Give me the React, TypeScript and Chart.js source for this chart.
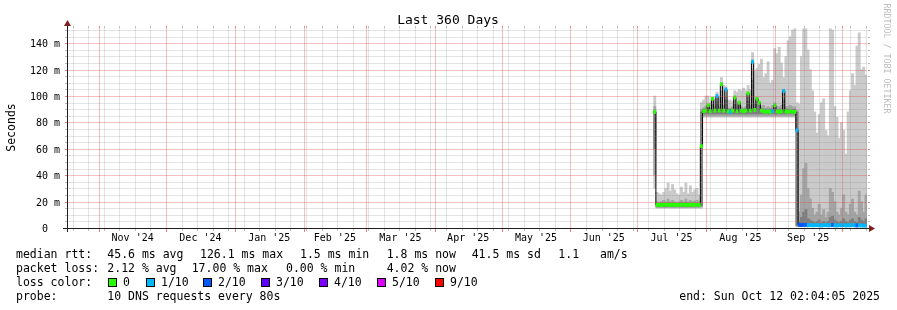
import React, { useEffect, useRef } from 'react';
import { Chart, registerables } from 'chart.js';

Chart.register(...registerables);

// ---------------- data ----------------
const chartTitle = 'Last 360 Days';
const yAxisTitle = 'Seconds';
const watermark = 'RRDTOOL / TOBI OETIKER';
const spanDays = 360;
const axisStartUTC = Date.UTC(2024, 9, 17, 11, 10); // left edge of the time axis (local wall clock)
const firstSlot = 264; // first one-day slot that holds data
const yMax = 151.6;
const yMinorStep = 5;
const yTickValues = [0, 20, 40, 60, 80, 100, 120, 140];
const yTickLabels = ['0  ', '20 m', '40 m', '60 m', '80 m', '100 m', '120 m', '140 m'];
const monthStarts = [
  [2024, 10], [2024, 11], [2025, 0], [2025, 1], [2025, 2], [2025, 3],
  [2025, 4], [2025, 5], [2025, 6], [2025, 7], [2025, 8], [2025, 9],
];
const monthLabels = ["Nov '24", "Dec '24", "Jan '25", "Feb '25", "Mar '25", "Apr '25", "May '25", "Jun '25", "Jul '25", "Aug '25", "Sep '25"];
const firstSunday = [2024, 9, 20];

// one value per day slot, slots 264..359
const medianRtt = [
  88, 17.5, 17.6, 17.4, 17.5, 17.8, 17.6, 17.5, 17.7, 17.6,
  17.5, 17.4, 17.6, 17.8, 17.6, 17.5, 17.7, 17.6, 17.5, 17.6,
  17.5, 62, 88.5, 89, 93, 88.5, 98, 89, 100, 89,
  109, 89, 105, 88.5, 88, 89, 99, 88.5, 95, 89,
  88.5, 89, 102, 89, 126.1, 89.5, 98, 95, 89, 88.5,
  88, 88.5, 88, 88.5, 93, 88.5, 88, 88.5, 104, 88.5,
  88, 88.5, 88, 88, 74, 2.4, 2.2, 2.5, 2.3, 2.1,
  2.2, 2.0, 2.1, 2.3, 2.0, 1.9, 2.1, 2.2, 2.0, 2.1,
  2.3, 2.0, 1.9, 2.1, 2.0, 2.2, 1.9, 2.0, 2.1, 2.3,
  2.0, 1.9, 2.0, 1.9, 1.8, 1.8,
];
const lostPings = [
  0, 0, 0, 0, 0, 0, 0, 0, 0, 0,
  0, 0, 0, 0, 0, 0, 0, 0, 0, 0,
  0, 0, 0, 0, 0, 0, 0, 0, 1, 0,
  0, 0, 1, 0, 1, 0, 0, 0, 0, 0,
  0, 0, 0, 0, 1, 0, 0, 0, 0, 0,
  0, 0, 0, 1, 0, 0, 0, 0, 1, 0,
  0, 0, 0, 0, 1, 2, 2, 2, 2, 1,
  1, 1, 1, 1, 1, 1, 1, 1, 1, 1,
  2, 1, 1, 1, 1, 1, 1, 1, 1, 1,
  1, 2, 1, 1, 1, 1,
];
const smokeOuterLo = [
  30, 15, 15, 15, 15, 15, 15, 15, 15, 15,
  15, 15, 15, 15, 15, 15, 15, 15, 15, 15,
  15, 15, 84, 84, 84, 84, 84, 84, 84, 84,
  84, 84, 84, 84, 84, 84, 84, 84, 84, 84,
  84, 84, 84, 84, 84, 84, 84, 84, 84, 84,
  84, 84, 84, 84, 84, 84, 84, 84, 84, 84,
  84, 84, 84, 84, 1, 1, 1, 1, 1, 1,
  1, 1, 1, 1, 1, 1, 1, 1, 1, 1,
  1, 1, 1, 1, 1, 1, 1, 1, 1, 1,
  1, 1, 1, 1, 1, 1,
];
const smokeOuterHi = [
  100, 27, 26, 25, 27, 30, 34, 28, 33, 29,
  26, 25, 31, 27, 34, 26, 32, 27, 29, 30,
  25, 95, 97, 100, 100, 95, 99, 98, 103, 99,
  114, 108, 107, 97, 97, 96, 104, 103, 105, 104,
  106, 104, 108, 105, 133, 119, 121, 124, 128, 114,
  117, 126, 110, 112, 136, 132, 137, 125, 114, 130,
  142, 145, 150, 151, 95, 94, 130, 151, 151, 135,
  120, 104, 88, 72, 86, 95, 98, 74, 70, 151,
  150, 92, 84, 68, 80, 74, 56, 88, 104, 117,
  108, 138, 148, 120, 122, 116,
];
const smokeMidLo = [
  40, 15.5, 15.5, 15.5, 15.5, 15.5, 15.5, 15.5, 15.5, 15.5,
  15.5, 15.5, 15.5, 15.5, 15.5, 15.5, 15.5, 15.5, 15.5, 15.5,
  15.5, 16, 85, 85, 85, 85, 85, 85, 85, 85,
  85, 85, 85, 85, 85, 85, 85, 85, 85, 85,
  85, 85, 85, 85, 85, 85, 85, 85, 85, 85,
  85, 85, 85, 85, 85, 85, 85, 85, 85, 85,
  85, 85, 85, 85, 1.5, 1.2, 1.2, 1.2, 1.2, 1.2,
  1.2, 1.2, 1.2, 1.2, 1.2, 1.2, 1.2, 1.2, 1.2, 1.2,
  1.2, 1.2, 1.2, 1.2, 1.2, 1.2, 1.2, 1.2, 1.2, 1.2,
  1.2, 1.2, 1.2, 1.2, 1.2, 1.2,
];
const smokeMidHi = [
  92, 20, 19.5, 20, 21, 20, 22, 20, 21, 20,
  19.5, 20, 21, 20, 22, 20, 21, 20, 20.5, 21,
  20, 90, 91, 92, 94, 91, 97, 92, 98, 92,
  104, 93, 100, 91, 91, 92, 97, 92, 95, 92,
  91, 92, 100, 93, 120, 94, 97, 95, 92, 93,
  91, 92, 91, 93, 95, 92, 92, 93, 102, 92,
  92, 93, 92, 92, 89, 12, 25, 45, 49, 30,
  22, 15, 10, 12, 18, 10, 14, 8, 12, 30,
  27, 20, 12, 10, 15, 25, 12, 10, 18, 22,
  12, 10, 28, 20, 12, 25,
];
const smokeInnerLo = [
  60, 16.2, 16.2, 16.2, 16.2, 16.2, 16.2, 16.2, 16.2, 16.2,
  16.2, 16.2, 16.2, 16.2, 16.2, 16.2, 16.2, 16.2, 16.2, 16.2,
  16.2, 17, 86.5, 86.5, 86.5, 86.5, 86.5, 86.5, 86.5, 86.5,
  86.5, 86.5, 86.5, 86.5, 86.5, 86.5, 86.5, 86.5, 86.5, 86.5,
  86.5, 86.5, 86.5, 86.5, 86.5, 86.5, 86.5, 86.5, 86.5, 86.5,
  86.5, 86.5, 86.5, 86.5, 86.5, 86.5, 86.5, 86.5, 86.5, 86.5,
  86.5, 86.5, 86.5, 86.5, 2, 1.5, 1.5, 1.5, 1.5, 1.5,
  1.5, 1.5, 1.5, 1.5, 1.5, 1.5, 1.5, 1.5, 1.5, 1.5,
  1.5, 1.5, 1.5, 1.5, 1.5, 1.5, 1.5, 1.5, 1.5, 1.5,
  1.5, 1.5, 1.5, 1.5, 1.5, 1.5,
];
const smokeInnerHi = [
  89, 18.8, 18.6, 18.9, 19, 18.8, 19.2, 18.8, 19, 18.8,
  18.7, 18.8, 19, 18.8, 19.2, 18.8, 19, 18.8, 18.9, 19,
  18.8, 88, 90, 90.5, 92, 90, 94, 90.5, 95, 90.5,
  99, 90.5, 97, 90, 90, 90.5, 94, 90, 93, 90.5,
  90, 90.5, 96, 91, 112, 91, 94, 93, 90.5, 90,
  90, 90, 90, 90.5, 92, 90, 90, 90.5, 97, 90,
  90, 90, 90, 90, 88, 5, 8, 12, 14, 7,
  6, 5, 4, 5, 6, 4, 5, 4, 5, 8,
  9, 6, 5, 4, 5, 7, 5, 4, 6, 7,
  5, 4, 8, 6, 5, 7,
];

const lossLabels = ['0', '1/10', '2/10', '3/10', '4/10', '5/10', '9/10'];
const lossColors = ['#26ff00', '#00b8ff', '#0059ff', '#5e00ff', '#7e00ff', '#dd00ff', '#ff0000'];
const rttLegend = ['median rtt:', '45.6 ms avg', '126.1 ms max', '1.5 ms min', '1.8 ms now', '41.5 ms sd', '1.1', 'am/s'];
const lossLegend = ['packet loss:', '2.12 % avg', '17.00 % max', '0.00 % min', '4.02 % now'];
const lossColorTitle = 'loss color:';
const probeLegend = ['probe:', '10 DNS requests every 80s'];
const endLegend = 'end: Sun Oct 12 02:04:05 2025';

// ---------------- helpers ----------------
const dayOf = (y: number, m: number, d: number) => (Date.UTC(y, m, d) - axisStartUTC) / 86400000;
const slotX = (i: number) => firstSlot + i + 0.5;
function lossColor(n: number) {
  if (n <= 0) return lossColors[0];
  if (n >= 9) return lossColors[6];
  if (n >= 5) return lossColors[5];
  return lossColors[n];
}

const FONT = '"DejaVu Sans Mono", monospace';
const GRID = 'rgba(143,143,143,0.24)';
const MGRID = 'rgba(222,79,79,0.36)';
const GRID_TICK = 'rgba(143,143,143,0.6)';
const MGRID_TICK = 'rgba(222,79,79,0.7)';
const AXIS = '#1f1f1f';
const ARROW = '#801f1f';

const rrdPlugin = {
  id: 'rrdLook',
  afterDatasetsDraw(chart: any) {
    const { ctx, chartArea: a, scales } = chart;
    const xs = scales.x;
    const ys = scales.y;
    const L = Math.round(a.left), R = Math.round(a.right), T = Math.round(a.top), B = Math.round(a.bottom);
    ctx.save();
    // horizontal grid
    for (let v = yMinorStep; v < yMax; v += yMinorStep) {
      const r = Math.round(ys.getPixelForValue(v));
      const major = yTickValues.includes(v);
      ctx.fillStyle = major ? MGRID : GRID;
      ctx.fillRect(L + 1, r, R - L - 1, 1);
      ctx.fillStyle = major ? MGRID_TICK : GRID_TICK;
      ctx.fillRect(L - 2, r, 2, 1);
      ctx.fillRect(R + 1, r, 2, 1);
    }
    // vertical grid: weeks (minor) and months (major)
    const months = monthStarts.map(([y, m]) => dayOf(y, m, 1));
    for (let t = dayOf(firstSunday[0], firstSunday[1], firstSunday[2]); t < spanDays; t += 7) {
      if (t < 0 || months.some((mt) => Math.abs(mt - t) < 0.01)) continue;
      const c = Math.round(xs.getPixelForValue(t));
      ctx.fillStyle = GRID;
      ctx.fillRect(c, T, 1, B - T);
      ctx.fillStyle = GRID_TICK;
      ctx.fillRect(c, B + 1, 1, 2);
      ctx.fillRect(c, T - 2, 1, 2);
    }
    for (const t of months) {
      if (t < 0 || t > spanDays) continue;
      const c = Math.round(xs.getPixelForValue(t));
      ctx.fillStyle = MGRID;
      ctx.fillRect(c, T, 1, B - T);
      ctx.fillStyle = MGRID_TICK;
      ctx.fillRect(c, B + 1, 1, 3);
      ctx.fillRect(c, T - 2, 1, 2);
    }
    // axes and arrows
    ctx.fillStyle = AXIS;
    ctx.fillRect(L - 4, B, R - L + 9, 1);
    ctx.fillRect(L, T - 4, 1, B - T + 8);
    ctx.fillStyle = ARROW;
    ctx.beginPath();
    ctx.moveTo(R + 2, B + 0.5 - 3.5);
    ctx.lineTo(R + 2, B + 0.5 + 3.5);
    ctx.lineTo(R + 8, B + 0.5);
    ctx.closePath();
    ctx.fill();
    ctx.beginPath();
    ctx.moveTo(L + 0.5 - 3.5, T - 2);
    ctx.lineTo(L + 0.5 + 3.5, T - 2);
    ctx.lineTo(L + 0.5, T - 8);
    ctx.closePath();
    ctx.fill();

    // texts
    ctx.fillStyle = '#000';
    ctx.textBaseline = 'alphabetic';
    ctx.font = `13px ${FONT}`;
    ctx.textAlign = 'center';
    ctx.fillText(chartTitle, 448, 24);

    ctx.font = `10px ${FONT}`;
    ctx.textAlign = 'right';
    yTickValues.forEach((v, i) => {
      const py = Math.round(ys.getPixelForValue(v));
      ctx.fillText(yTickLabels[i], 60, py + 4);
    });
    ctx.textAlign = 'center';
    monthLabels.forEach((lab, i) => {
      const mid = (months[i] + months[i + 1]) / 2;
      ctx.fillText(lab, xs.getPixelForValue(mid), 241);
    });

    ctx.save();
    ctx.font = `11.5px ${FONT}`;
    ctx.translate(15, 127.5);
    ctx.rotate(-Math.PI / 2);
    ctx.textAlign = 'center';
    ctx.fillText(yAxisTitle, 0, 0);
    ctx.restore();

    ctx.save();
    ctx.font = `8.3px ${FONT}`;
    ctx.fillStyle = '#bcbcbc';
    ctx.translate(883.5, 58.5);
    ctx.rotate(Math.PI / 2);
    ctx.textAlign = 'center';
    ctx.fillText(watermark, 0, 0);
    ctx.restore();

    // legend
    ctx.font = `11.5px ${FONT}`;
    ctx.textAlign = 'left';
    const row1 = [16, 107.3, 200, 300, 386.7, 471.7, 558.3, 600];
    rttLegend.forEach((s, i) => ctx.fillText(s, row1[i], 258.3));
    const row2 = [16, 107.3, 191.7, 286, 386.7];
    lossLegend.forEach((s, i) => ctx.fillText(s, row2[i], 272.3));
    ctx.fillText(lossColorTitle, 16, 286.3);
    const boxX = [108, 146, 203, 261, 319, 377, 435];
    lossLabels.forEach((s, i) => {
      ctx.fillStyle = '#000';
      ctx.fillRect(boxX[i], 278, 9, 9);
      ctx.fillStyle = lossColors[i];
      ctx.fillRect(boxX[i] + 1, 279, 7, 7);
      ctx.fillStyle = '#000';
      ctx.fillText(s, boxX[i] + 15, 286.3);
    });
    ctx.fillText(probeLegend[0], 16, 300.3);
    ctx.fillText(probeLegend[1], 107.3, 300.3);
    ctx.textAlign = 'right';
    ctx.fillText(endLegend, 880, 300.3);
    ctx.restore();
  },
};

export default function App() {
  const ref = useRef<HTMLCanvasElement>(null);
  useEffect(() => {
    const canvas = ref.current;
    if (!canvas) return;
    const toBar = (lo: number[], hi: number[]) => lo.map((v, i) => ({ x: slotX(i), y: [v, hi[i]] }));
    const barCommon = {
      type: 'bar' as const,
      grouped: false,
      categoryPercentage: 1,
      barPercentage: 1,
      borderWidth: 0,
      borderSkipped: false,
    };
    const medHalf = 1.2;
    const chart = new Chart(canvas, {
      type: 'bar',
      data: {
        datasets: [
          {
            ...barCommon,
            label: 'median (loss colour)',
            data: medianRtt.map((m, i) => ({ x: slotX(i), y: [m - medHalf, m + medHalf] })),
            backgroundColor: lostPings.map(lossColor),
            order: 0,
          } as any,
          {
            type: 'line',
            label: 'median',
            data: medianRtt.map((m, i) => ({ x: slotX(i), y: m })),
            borderColor: '#000000',
            borderWidth: 1,
            pointRadius: 0,
            stepped: 'middle',
            fill: false,
            order: 1,
          } as any,
          { ...barCommon, label: 'smoke inner', data: toBar(smokeInnerLo, smokeInnerHi), backgroundColor: '#7e7e7e', order: 2 } as any,
          { ...barCommon, label: 'smoke mid', data: toBar(smokeMidLo, smokeMidHi), backgroundColor: '#a4a4a4', order: 3 } as any,
          { ...barCommon, label: 'smoke outer', data: toBar(smokeOuterLo, smokeOuterHi), backgroundColor: '#cacaca', order: 4 } as any,
        ],
      },
      options: {
        animation: false,
        responsive: false,
        maintainAspectRatio: false,
        events: [],
        layout: { padding: { left: 67, right: 30, top: 28, bottom: 82 } },
        scales: {
          x: { type: 'linear', min: 0, max: spanDays, display: false, offset: false },
          y: { type: 'linear', min: 0, max: yMax, display: false },
        },
        plugins: { legend: { display: false }, tooltip: { enabled: false }, title: { display: false } },
      } as any,
      plugins: [rrdPlugin],
    });
    return () => chart.destroy();
  }, []);
  return (
    <div style={{ position: 'fixed', left: 0, top: 0, width: 897, height: 310, background: '#ffffff' }}>
      <canvas ref={ref} width={897} height={310} style={{ display: 'block', width: 897, height: 310 }} />
    </div>
  );
}
